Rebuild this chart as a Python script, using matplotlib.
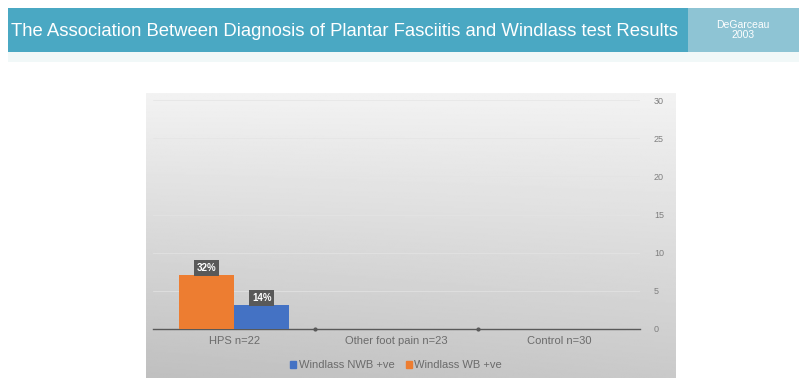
import matplotlib.pyplot as plt
import numpy as np
from matplotlib.patches import Rectangle

# data
categories = ['HPS n=22', 'Other foot pain n=23', 'Control n=30']
nwb_values = [3.08, 0, 0]   # Windlass NWB +ve
wb_values = [7.04, 0, 0]    # Windlass WB +ve
nwb_labels = ['14%', '', '']
wb_labels = ['32%', '', '']
y_ticks = [0, 5, 10, 15, 20, 25, 30]

plt.rcParams['font.family'] = ['Liberation Sans', 'DejaVu Sans']

W, H = 799, 378
fig = plt.figure(figsize=(W / 100, H / 100), dpi=100)
fig.patch.set_facecolor('white')

def px(x0, y0, x1, y1):
    # pixel box (top-left origin) -> figure fraction rect
    return [x0 / W, 1 - y1 / H, (x1 - x0) / W, (y1 - y0) / H]

# header bar
r = px(8, 8, 688, 52)
fig.patches.append(Rectangle((r[0], r[1]), r[2], r[3], transform=fig.transFigure,
                             facecolor='#4aa8c3', edgecolor='none', zorder=0))
r = px(688, 8, 799, 52)
fig.patches.append(Rectangle((r[0], r[1]), r[2], r[3], transform=fig.transFigure,
                             facecolor='#8ec4d4', edgecolor='none', zorder=0))
r = px(8, 52, 799, 62)
fig.patches.append(Rectangle((r[0], r[1]), r[2], r[3], transform=fig.transFigure,
                             facecolor='#f1f8f8', edgecolor='none', zorder=0))
fig.text(11 / W, 1 - 31 / H, 'The Association Between Diagnosis of Plantar Fasciitis and Windlass test Results',
         color='white', fontsize=13.3, va='center', ha='left')
fig.text(743 / W, 1 - 30 / H, 'DeGarceau\n2003', color='white', fontsize=7.5,
         va='center', ha='center', linespacing=1.0)

# gradient panel behind the chart
bg = fig.add_axes(px(146, 93, 676, 378))
yy, xx = np.mgrid[0:1:200j, 0:1:300j]
shade = 0.95 - 0.16 * yy - 0.04 * (1 - xx) * yy
bg.imshow(shade, cmap='gray', vmin=0, vmax=1, aspect='auto', extent=[0, 1, 1, 0])
bg.set_axis_off()

# chart
ax = fig.add_axes(px(153, 100, 640, 329))
ax.patch.set_alpha(0)
x = np.arange(len(categories))
bw = 0.34
ax.bar(x - bw / 2, wb_values, bw, color='#ed7d31', zorder=3)
ax.bar(x + bw / 2, nwb_values, bw, color='#4472c4', zorder=3)

for xi, v, lab in zip(x - bw / 2, wb_values, wb_labels):
    if lab:
        ax.text(xi, v + 0.3, lab, ha='center', va='bottom', color='white', fontsize=7,
                fontweight='bold', zorder=4,
                bbox=dict(boxstyle='square,pad=0.3', facecolor='#595959', edgecolor='none'))
for xi, v, lab in zip(x + bw / 2, nwb_values, nwb_labels):
    if lab:
        ax.text(xi, v + 0.3, lab, ha='center', va='bottom', color='white', fontsize=7,
                fontweight='bold', zorder=4,
                bbox=dict(boxstyle='square,pad=0.3', facecolor='#595959', edgecolor='none'))

ax.set_xlim(-0.5, 2.5)
ax.set_ylim(0, 30)
ax.set_yticks(y_ticks)
ax.yaxis.tick_right()
ax.tick_params(axis='y', length=0, labelsize=6.5, colors='#7f7f7f', pad=10)
ax.grid(axis='y', color='#e4e4e4', linewidth=0.5, zorder=0)
ax.set_xticks(x)
ax.set_xticklabels(categories)
ax.tick_params(axis='x', length=0, labelsize=8, colors='#6b6b6b', pad=5)
for s in ['top', 'left', 'right']:
    ax.spines[s].set_visible(False)
ax.spines['bottom'].set_color('#595959')
ax.spines['bottom'].set_linewidth(1)
ax.plot([0.5, 1.5], [0, 0], 'o', ms=2, color='#595959', clip_on=False, zorder=4)

h1 = Rectangle((0, 0), 1, 1, color='#4472c4')
h2 = Rectangle((0, 0), 1, 1, color='#ed7d31')
fig.legend([h1, h2], ['Windlass NWB +ve', 'Windlass WB +ve'], loc='center',
           bbox_to_anchor=(396 / W, 1 - 365 / H), ncol=2, frameon=False, fontsize=8,
           labelcolor='#6b6b6b', handlelength=0.6, handleheight=0.6, handletextpad=0.2,
           columnspacing=1.0)

fig.savefig('out.png', dpi=100)
